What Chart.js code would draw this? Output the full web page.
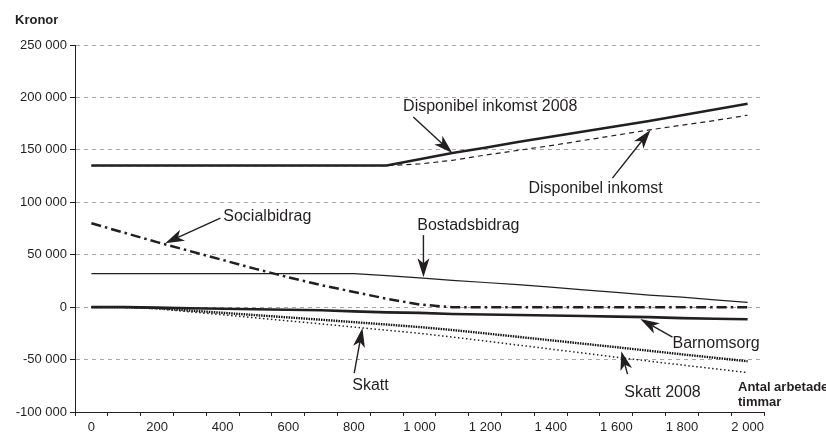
<!DOCTYPE html>
<html>
<head>
<meta charset="utf-8">
<script src="https://cdn.jsdelivr.net/npm/chart.js@4"></script>
<style>
    body { margin: 0; background: #fff; }
    #wrap { width: 826px; height: 436px; }
</style>
</head>
<body>
<div id="wrap"><canvas id="chart" width="826" height="436"></canvas></div>
<script>
// Timmar (arbetade per år)
const hours = [0, 100, 200, 300, 400, 500, 600, 700, 800, 900, 1000,
    1100, 1200, 1300, 1400, 1500, 1600, 1700, 1800, 1900, 2000];

// Kronor per serie
const dispInkomst2008 = [135000, 135000, 135000, 135000, 135000, 135000, 135000, 135000, 135000, 135000,
    141000, 147000, 152000, 157500, 162500, 167500, 172500, 177500, 183000, 188500, 194000];
const dispInkomst = [135000, 135000, 135000, 135000, 135000, 135000, 135000, 135000, 135000, 135000,
    136500, 140000, 145000, 149500, 154000, 159000, 164000, 169000, 173500, 178000, 183000];
const bostadsbidrag = [32000, 32000, 32000, 32000, 32000, 32000, 32000, 32000, 32000,
    30000, 28000, 25500, 23500, 21500, 19000, 16500, 14000, 11500, 9500, 7000, 4500];
const socialbidrag = [80000, 71000, 62000, 53500, 45000, 36500, 28500, 21000, 14500, 8000, 2500,
    0, 0, 0, 0, 0, 0, 0, 0, 0, 0];
const barnomsorg = [0, 0, -500, -1000, -1500, -2000, -2500, -3000, -4000, -5000, -5500,
    -6500, -7000, -7500, -8000, -8500, -9000, -9500, -10500, -11000, -11500];
const skatt2008 = [0, 0, -1000, -3200, -5400, -7600, -9800, -12000, -14300, -16600, -19000,
    -21800, -25000, -28300, -31600, -34900, -38200, -41600, -45000, -48300, -51600];
const skatt = [0, 0, -1500, -4400, -7300, -10200, -13100, -16000, -19000, -22000, -25000,
    -28500, -32300, -36100, -40000, -43900, -47700, -51500, -55200, -58800, -62400];

const yTicks = [-100000, -50000, 0, 50000, 100000, 150000, 200000, 250000];

// Etiketter med pilar: text [timmar, kronor], pil från -> till
const notes = [
    { text: 'Disponibel inkomst 2008', at: [950, 190800], from: [981, 181300], to: [1100, 146900] },
    { text: 'Disponibel inkomst', at: [1332, 113500], from: [1588, 123100], to: [1704, 168900] },
    { text: 'Socialbidrag', at: [402, 86800], from: [393, 84900], to: [225, 61000] },
    { text: 'Bostadsbidrag', at: [993, 77300], from: [1012, 68700], to: [1012, 28600] },
    { text: 'Barnomsorg', at: [1771, -34300], from: [1771, -28600], to: [1673, -11400] },
    { text: 'Skatt', at: [795, -74400], from: [801, -63000], to: [826, -20000] },
    { text: 'Skatt 2008', at: [1624, -81100], from: [1634, -63900], to: [1615, -42000] }
];

const FONT = "'Liberation Sans', Arial, sans-serif";
const INK = '#231f20';

function fmt(n) {
    return String(n).replace(/\B(?=(\d{3})+(?!\d))/g, ' ');
}

/**
 * Draw a line with a filled, notched arrow head at (x2, y2)
 */
function drawArrow(ctx, x1, y1, x2, y2) {
    const ang = Math.atan2(y2 - y1, x2 - x1);
    const cos = Math.cos(ang), sin = Math.sin(ang);
    const len = 19, half = 6, notch = 5;
    const bx = x2 - cos * len, by = y2 - sin * len;
    const nx = x2 - cos * (len - notch), ny = y2 - sin * (len - notch);
    ctx.beginPath();
    ctx.moveTo(x1, y1);
    ctx.lineTo(nx, ny);
    ctx.lineWidth = 1.4;
    ctx.strokeStyle = INK;
    ctx.stroke();
    ctx.beginPath();
    ctx.moveTo(x2, y2);
    ctx.lineTo(bx - sin * half, by + cos * half);
    ctx.lineTo(nx, ny);
    ctx.lineTo(bx + sin * half, by - cos * half);
    ctx.closePath();
    ctx.fillStyle = INK;
    ctx.fill();
}

const notesPlugin = {
    id: 'notes',
    afterDraw(chart) {
        const ctx = chart.ctx;
        const xs = chart.scales.x, ys = chart.scales.y;
        const px = h => xs.getPixelForValue(h / 100);
        const py = v => ys.getPixelForValue(v);
        ctx.save();
        notes.forEach(n => {
            drawArrow(ctx, px(n.from[0]), py(n.from[1]), px(n.to[0]), py(n.to[1]));
            ctx.font = '16px ' + FONT;
            ctx.fillStyle = INK;
            ctx.textAlign = 'left';
            ctx.textBaseline = 'middle';
            ctx.fillText(n.text, px(n.at[0]), py(n.at[1]));
        });
        // axelrubriker
        ctx.font = 'bold 13px ' + FONT;
        ctx.fillStyle = INK;
        ctx.textBaseline = 'middle';
        ctx.fillText('Kronor', 15, 20);
        ctx.fillText('Antal arbetade', xs.right - 26, ys.bottom - 25);
        ctx.fillText('timmar', xs.right - 26, ys.bottom - 10);
        ctx.restore();
    }
};

function line(label, data, width, dash, color) {
    return {
        label: label,
        data: data,
        borderColor: color || INK,
        borderWidth: width,
        borderDash: dash,
        pointRadius: 0,
        tension: 0,
        fill: false
    };
}

new Chart(document.getElementById('chart'), {
    type: 'line',
    data: {
        labels: hours.map(String),
        datasets: [
            line('Disponibel inkomst 2008', dispInkomst2008, 2.5, []),
            line('Disponibel inkomst', dispInkomst, 1.2, [5, 4]),
            line('Barnomsorg', barnomsorg, 2.6, []),
            line('Socialbidrag', socialbidrag, 2.5, [10, 4, 2.5, 4]),
            line('Bostadsbidrag', bostadsbidrag, 1.2, []),
            line('Skatt 2008', skatt2008, 2.4, [1.5, 1], '#111'),
            line('Skatt', skatt, 1.5, [1.5, 2.5], '#222')
        ]
    },
    options: {
        responsive: false,
        animation: false,
        layout: { padding: { top: 45, right: 62, left: 0, bottom: 0 } },
        plugins: {
            legend: { display: false },
            tooltip: { enabled: false }
        },
        scales: {
            x: {
                type: 'category',
                offset: true,
                afterFit: s => { s.height = 24; },
                grid: {
                    offset: true,
                    drawOnChartArea: false,
                    drawTicks: true,
                    tickLength: 4,
                    tickColor: INK,
                    tickWidth: 1
                },
                border: { display: true, color: INK, width: 1 },
                ticks: {
                    autoSkip: false,
                    maxRotation: 0,
                    padding: 4,
                    color: INK,
                    font: { family: FONT, size: 13 },
                    callback: function (val, i) {
                        return i % 2 === 0 ? fmt(hours[i]) : '';
                    }
                }
            },
            y: {
                min: -100000,
                max: 250000,
                afterFit: s => { s.width = 75; },
                afterBuildTicks: s => { s.ticks = yTicks.map(v => ({ value: v })); },
                grid: {
                    color: c => c.tick && c.tick.value === -100000 ? 'rgba(0,0,0,0)' : '#a6a6a6',
                    lineWidth: 1,
                    tickLength: 5,
                    tickColor: INK,
                    tickBorderDash: []
                },
                border: { display: true, color: INK, width: 1, dash: [4, 4] },
                ticks: {
                    padding: 3,
                    color: INK,
                    font: { family: FONT, size: 13 },
                    callback: v => fmt(v)
                }
            }
        }
    },
    plugins: [notesPlugin]
});
</script>
</body>
</html>
